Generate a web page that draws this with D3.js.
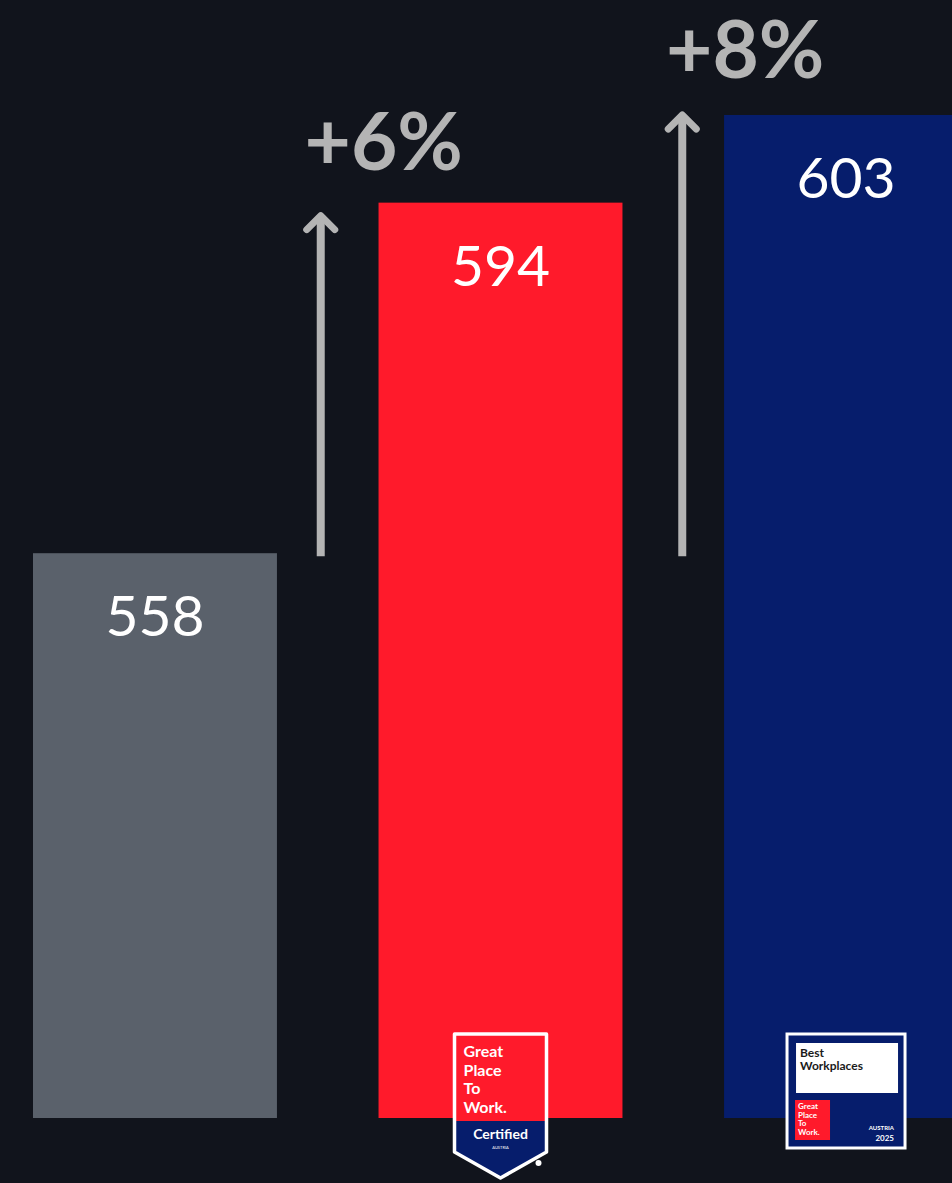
<!DOCTYPE html>
<html>
<head>
<meta charset="utf-8">
<script src="https://cdn.jsdelivr.net/npm/d3@7"></script>
<style>
  html, body { margin: 0; padding: 0; background: #11141c; }
  svg { display: block; }
</style>
</head>
<body>
<div id="chart"></div>
<script>
// chart data
var categories = ["Vorher", "Great Place To Work Certified", "Best Workplaces 2025"];
var values = [558, 594, 603];
var barColors = ["#5a616b", "#ff1a2b", "#061d6c"];
// growth arrows, both measured from the first bar
var changeTargets = [1, 2];
var changeLabels = ["+6%", "+8%"];

var svgWidth = 952;
var svgHeight = 1183;

var svg = d3.select("#chart")
  .append("svg")
  .attr("width", svgWidth)
  .attr("height", svgHeight);

svg.append("rect")
  .attr("width", svgWidth)
  .attr("height", svgHeight)
  .attr("fill", "#11141c");

// scales (third bar runs off the right edge like in the original)
var xScale = d3.scaleBand()
  .domain(categories)
  .range([33, 968])
  .paddingInner(0.294)
  .paddingOuter(0);

var yScale = d3.scaleLinear()
  .domain([500, 603])
  .range([1118, 115]);

var bw = xScale.bandwidth();

// bars
svg.selectAll(".bar")
  .data(values)
  .enter()
  .append("rect")
  .attr("class", "bar")
  .attr("x", (d, i) => xScale(categories[i]))
  .attr("y", d => yScale(d))
  .attr("width", bw)
  .attr("height", d => yScale(500) - yScale(d))
  .attr("fill", (d, i) => barColors[i]);

// value labels inside the bars
svg.selectAll(".value")
  .data(values)
  .enter()
  .append("text")
  .attr("class", "value")
  .attr("x", (d, i) => xScale(categories[i]) + bw / 2)
  .attr("y", d => yScale(d) + 83)
  .attr("text-anchor", "middle")
  .attr("fill", "#ffffff")
  .style("font-family", "Lato, sans-serif")
  .style("font-size", "57px")
  .style("font-weight", 400)
  .text(d => d);

// arrows + percentage labels
var arrowColor = "#b4b4b4";
var arrowShift = [-7, 9];
var tipShift = [10, -3];
var labelShift = [-43, -34];
changeTargets.forEach(function(t, i) {
  var prevRight = xScale(categories[t - 1]) + bw;
  var nextLeft = xScale(categories[t]);
  var ax = (prevRight + nextLeft) / 2 + arrowShift[i];
  var yBottom = yScale(values[0]) + 3;
  var yTip = yScale(values[t]) + tipShift[i];

  svg.append("line")
    .attr("x1", ax).attr("x2", ax)
    .attr("y1", yBottom).attr("y2", yTip + 3)
    .attr("stroke", arrowColor)
    .attr("stroke-width", 8);

  svg.append("path")
    .attr("d", `M${ax - 14},${yTip + 17} L${ax},${yTip + 3} L${ax + 14},${yTip + 17}`)
    .attr("fill", "none")
    .attr("stroke", arrowColor)
    .attr("stroke-width", 7)
    .attr("stroke-linecap", "round")
    .attr("stroke-linejoin", "round");

  svg.append("text")
    .attr("x", ax + 63)
    .attr("y", yTip + labelShift[i])
    .attr("text-anchor", "middle")
    .attr("fill", arrowColor)
    .style("font-family", "Lato, sans-serif")
    .style("font-size", "80px")
    .style("font-weight", 700)
    .text(changeLabels[i]);
});

// "Great Place To Work Certified" badge under the red bar
var c1 = xScale(categories[1]) + bw / 2;
var bTop = 1034;
var shield = `M${c1 - 46},${bTop} L${c1 + 46},${bTop} L${c1 + 46},${bTop + 118} L${c1},${bTop + 144} L${c1 - 46},${bTop + 118} Z`;

svg.append("clipPath")
  .attr("id", "shieldClip")
  .append("path")
  .attr("d", shield);

var badge1 = svg.append("g");
badge1.append("rect")
  .attr("x", c1 - 46).attr("y", bTop)
  .attr("width", 92).attr("height", 87)
  .attr("fill", "#ff1a2b")
  .attr("clip-path", "url(#shieldClip)");
badge1.append("rect")
  .attr("x", c1 - 46).attr("y", bTop + 87)
  .attr("width", 92).attr("height", 60)
  .attr("fill", "#061d6c")
  .attr("clip-path", "url(#shieldClip)");
badge1.append("path")
  .attr("d", shield)
  .attr("fill", "none")
  .attr("stroke", "#ffffff")
  .attr("stroke-width", 3.5)
  .attr("stroke-linejoin", "round");

var gptw = ["Great", "Place", "To", "Work."];
badge1.selectAll(".gl")
  .data(gptw)
  .enter()
  .append("text")
  .attr("x", c1 - 37)
  .attr("y", (d, i) => bTop + 23 + i * 18.5)
  .attr("fill", "#ffffff")
  .style("font-family", "Lato, sans-serif")
  .style("font-size", "16px")
  .style("font-weight", 700)
  .text(d => d);
badge1.append("text")
  .attr("x", c1).attr("y", bTop + 105)
  .attr("text-anchor", "middle")
  .attr("fill", "#ffffff")
  .style("font-family", "Lato, sans-serif")
  .style("font-size", "14px")
  .style("font-weight", 700)
  .text("Certified");
badge1.append("text")
  .attr("x", c1).attr("y", bTop + 115)
  .attr("text-anchor", "middle")
  .attr("fill", "#ffffff")
  .style("font-family", "Lato, sans-serif")
  .style("font-size", "4px")
  .text("AUSTRIA");
badge1.append("circle")
  .attr("cx", c1 + 38).attr("cy", bTop + 129)
  .attr("r", 3)
  .attr("fill", "#ffffff");

// "Best Workplaces" badge under the blue bar
var c2 = xScale(categories[2]) + bw / 2;
var b2 = svg.append("g");
b2.append("rect")
  .attr("x", c2 - 59).attr("y", bTop)
  .attr("width", 118).attr("height", 114)
  .attr("fill", "#061d6c")
  .attr("stroke", "#ffffff")
  .attr("stroke-width", 3);
b2.append("rect")
  .attr("x", c2 - 50).attr("y", bTop + 9)
  .attr("width", 102).attr("height", 50)
  .attr("fill", "#ffffff");
b2.append("text")
  .attr("x", c2 - 46).attr("y", bTop + 23)
  .attr("fill", "#1a1a1a")
  .style("font-family", "Lato, sans-serif")
  .style("font-size", "12px")
  .style("font-weight", 700)
  .text("Best");
b2.append("text")
  .attr("x", c2 - 46).attr("y", bTop + 36)
  .attr("fill", "#1a1a1a")
  .style("font-family", "Lato, sans-serif")
  .style("font-size", "12px")
  .style("font-weight", 700)
  .text("Workplaces");
b2.append("rect")
  .attr("x", c2 - 51).attr("y", bTop + 66)
  .attr("width", 35).attr("height", 40)
  .attr("fill", "#ff1a2b");
b2.selectAll(".gl2")
  .data(gptw)
  .enter()
  .append("text")
  .attr("x", c2 - 48)
  .attr("y", (d, i) => bTop + 75 + i * 8.5)
  .attr("fill", "#ffffff")
  .style("font-family", "Lato, sans-serif")
  .style("font-size", "8px")
  .style("font-weight", 700)
  .text(d => d);
b2.append("text")
  .attr("x", c2 + 48).attr("y", bTop + 96)
  .attr("text-anchor", "end")
  .attr("fill", "#ffffff")
  .style("font-family", "Lato, sans-serif")
  .style("font-size", "6px")
  .style("font-weight", 700)
  .text("AUSTRIA");
b2.append("text")
  .attr("x", c2 + 48).attr("y", bTop + 107)
  .attr("text-anchor", "end")
  .attr("fill", "#ffffff")
  .style("font-family", "Lato, sans-serif")
  .style("font-size", "8px")
  .style("font-weight", 700)
  .text("2025");
</script>
</body>
</html>
